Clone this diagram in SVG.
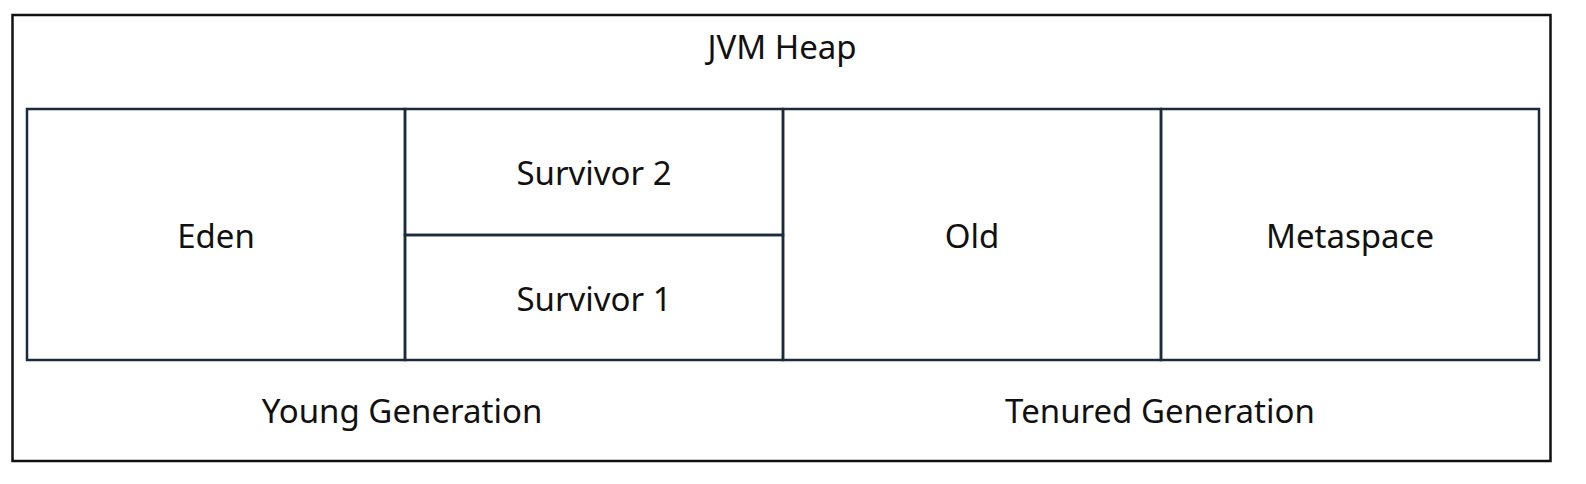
<svg xmlns="http://www.w3.org/2000/svg" width="1586" height="484" viewBox="0 0 1586 484">
<style>
.b{fill:none;stroke:#1b2b3b;stroke-width:2.5}
.o{fill:none;stroke:#111;stroke-width:2.5}
text{font-family:"Source Sans Pro","Noto Sans","Liberation Sans",sans-serif;font-size:33px;fill:#111;text-anchor:middle;dominant-baseline:central}
</style>
<rect width="1586" height="484" fill="#fff"/>
<g id="heap"><rect class="o" x="12.5" y="15" width="1538" height="446"/><text x="782" y="46">JVM Heap</text></g>
<g id="eden"><rect class="b" x="27" y="109" width="378" height="251"/><text x="216" y="235">Eden</text></g>
<g id="s2"><rect class="b" x="405" y="109" width="378" height="126"/><text x="594" y="172">Survivor 2</text></g>
<g id="s1"><rect class="b" x="405" y="235" width="378" height="125"/><text x="594" y="298">Survivor 1</text></g>
<g id="old"><rect class="b" x="783" y="109" width="378" height="251"/><text x="972" y="235">Old</text></g>
<g id="meta"><rect class="b" x="1161" y="109" width="378" height="251"/><text x="1350" y="235">Metaspace</text></g>
<g id="young"><text x="402" y="410">Young Generation</text></g>
<g id="tenured"><text x="1160" y="410">Tenured Generation</text></g>
<g id="connectors"/>
</svg>
